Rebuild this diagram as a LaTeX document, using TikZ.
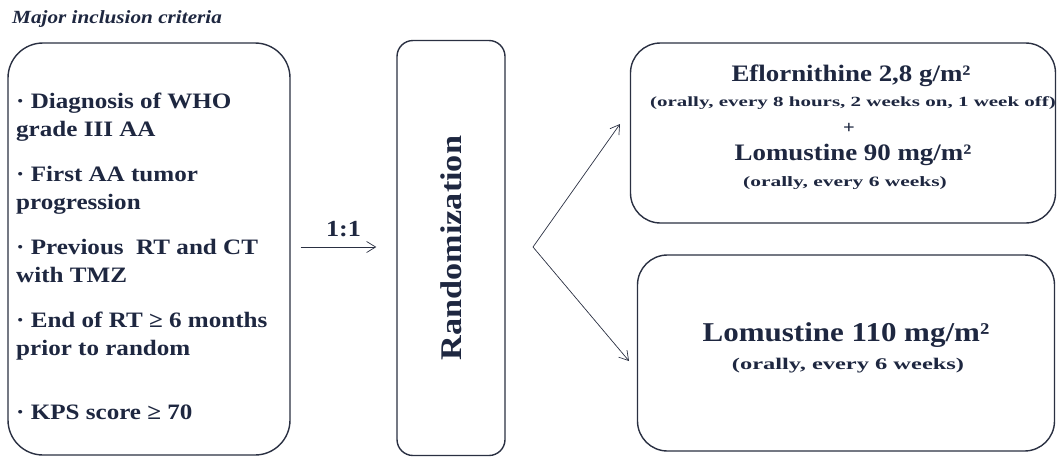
\documentclass[tikz,border=0pt]{standalone}
\usepackage{fontspec}
\usetikzlibrary{arrows.meta}
\setmainfont[FakeStretch=1.14]{Liberation Serif}
\newfontfamily\widefont[FakeStretch=1.5]{Liberation Serif}
\definecolor{inkblue}{HTML}{1E2740}
\definecolor{boxline}{HTML}{2A3042}
\tikzset{
  roundbox/.style={draw=boxline, line width=1.4pt, fill=white},
  arm/.style={-{Straight Barb[length=9pt, width=11pt]}, line width=0.7pt, draw=boxline},
}
\begin{document}
\begin{tikzpicture}[x=1pt, y=-1pt, text=inkblue, font=\bfseries]
  \useasboundingbox (0,0) rectangle (1058,461);
  % title
  \node[anchor=west, inner sep=0pt, font=\bfseries\itshape\fontsize{18.6}{22}\selectfont] (title) at (12,19) {Major inclusion criteria};
  % inclusion box
  \node[roundbox, rounded corners=35pt, minimum width=282pt, minimum height=412pt] (crit) at (149,249) {};
  \node[anchor=west, inner sep=0pt, align=left, font=\bfseries\fontsize{22}{28}\selectfont] (critlist) at (16,256)
    {· Diagnosis of WHO\\grade III AA\\[17pt]
     · First AA tumor\\progression\\[17pt]
     · Previous\ \ RT and CT\\with TMZ\\[17pt]
     · End of RT ≥ 6 months\\prior to random\\[36pt]
     · KPS score ≥ 70};
  % randomization box
  \node[roundbox, rounded corners=16pt, minimum width=108pt, minimum height=415pt] (rand) at (451,248) {};
  \node[rotate=90, font=\bfseries\fontsize{30}{32}\selectfont] (randlbl) at (rand.center) {Randomization};
  % arms
  \node[roundbox, rounded corners=30pt, minimum width=425pt, minimum height=180pt] (armA) at (843,133) {};
  \node[font=\bfseries\fontsize{23.6}{26}\selectfont] (drugA) at (851,76) {Eflornithine 2,8 g/m²};
  \node[font=\widefont\bfseries\fontsize{14}{16}\selectfont] (schedA) at (853,103) {(orally, every 8 hours, 2 weeks on, 1 week off)};
  \node[font=\bfseries\fontsize{18}{20}\selectfont] (plus) at (849,128) {+};
  \node[font=\bfseries\fontsize{23.6}{26}\selectfont] (drugB) at (853,155) {Lomustine 90 mg/m²};
  \node[font=\widefont\bfseries\fontsize{14.3}{16}\selectfont] (schedB) at (845,183) {(orally, every 6 weeks)};
  \node[roundbox, rounded corners=30pt, minimum width=417pt, minimum height=196pt] (armB) at (846,353) {};
  \node[font=\bfseries\fontsize{27.2}{30}\selectfont] (drugC) at (846,335) {Lomustine 110 mg/m²};
  \node[font=\widefont\bfseries\fontsize{16.3}{18}\selectfont] (schedC) at (848,366) {(orally, every 6 weeks)};
  % connectors
  \coordinate (split) at (533,247);
  \draw[arm, shorten <=10pt, shorten >=20pt] (crit.east |- split) -- node[above=6pt, font=\bfseries\fontsize{23}{24}\selectfont] (ratio) {1:1} (rand.west |- split);
  \draw[arm] (split) -- (620,124);
  \draw[arm] (split) -- (629,361);
\end{tikzpicture}
\end{document}
